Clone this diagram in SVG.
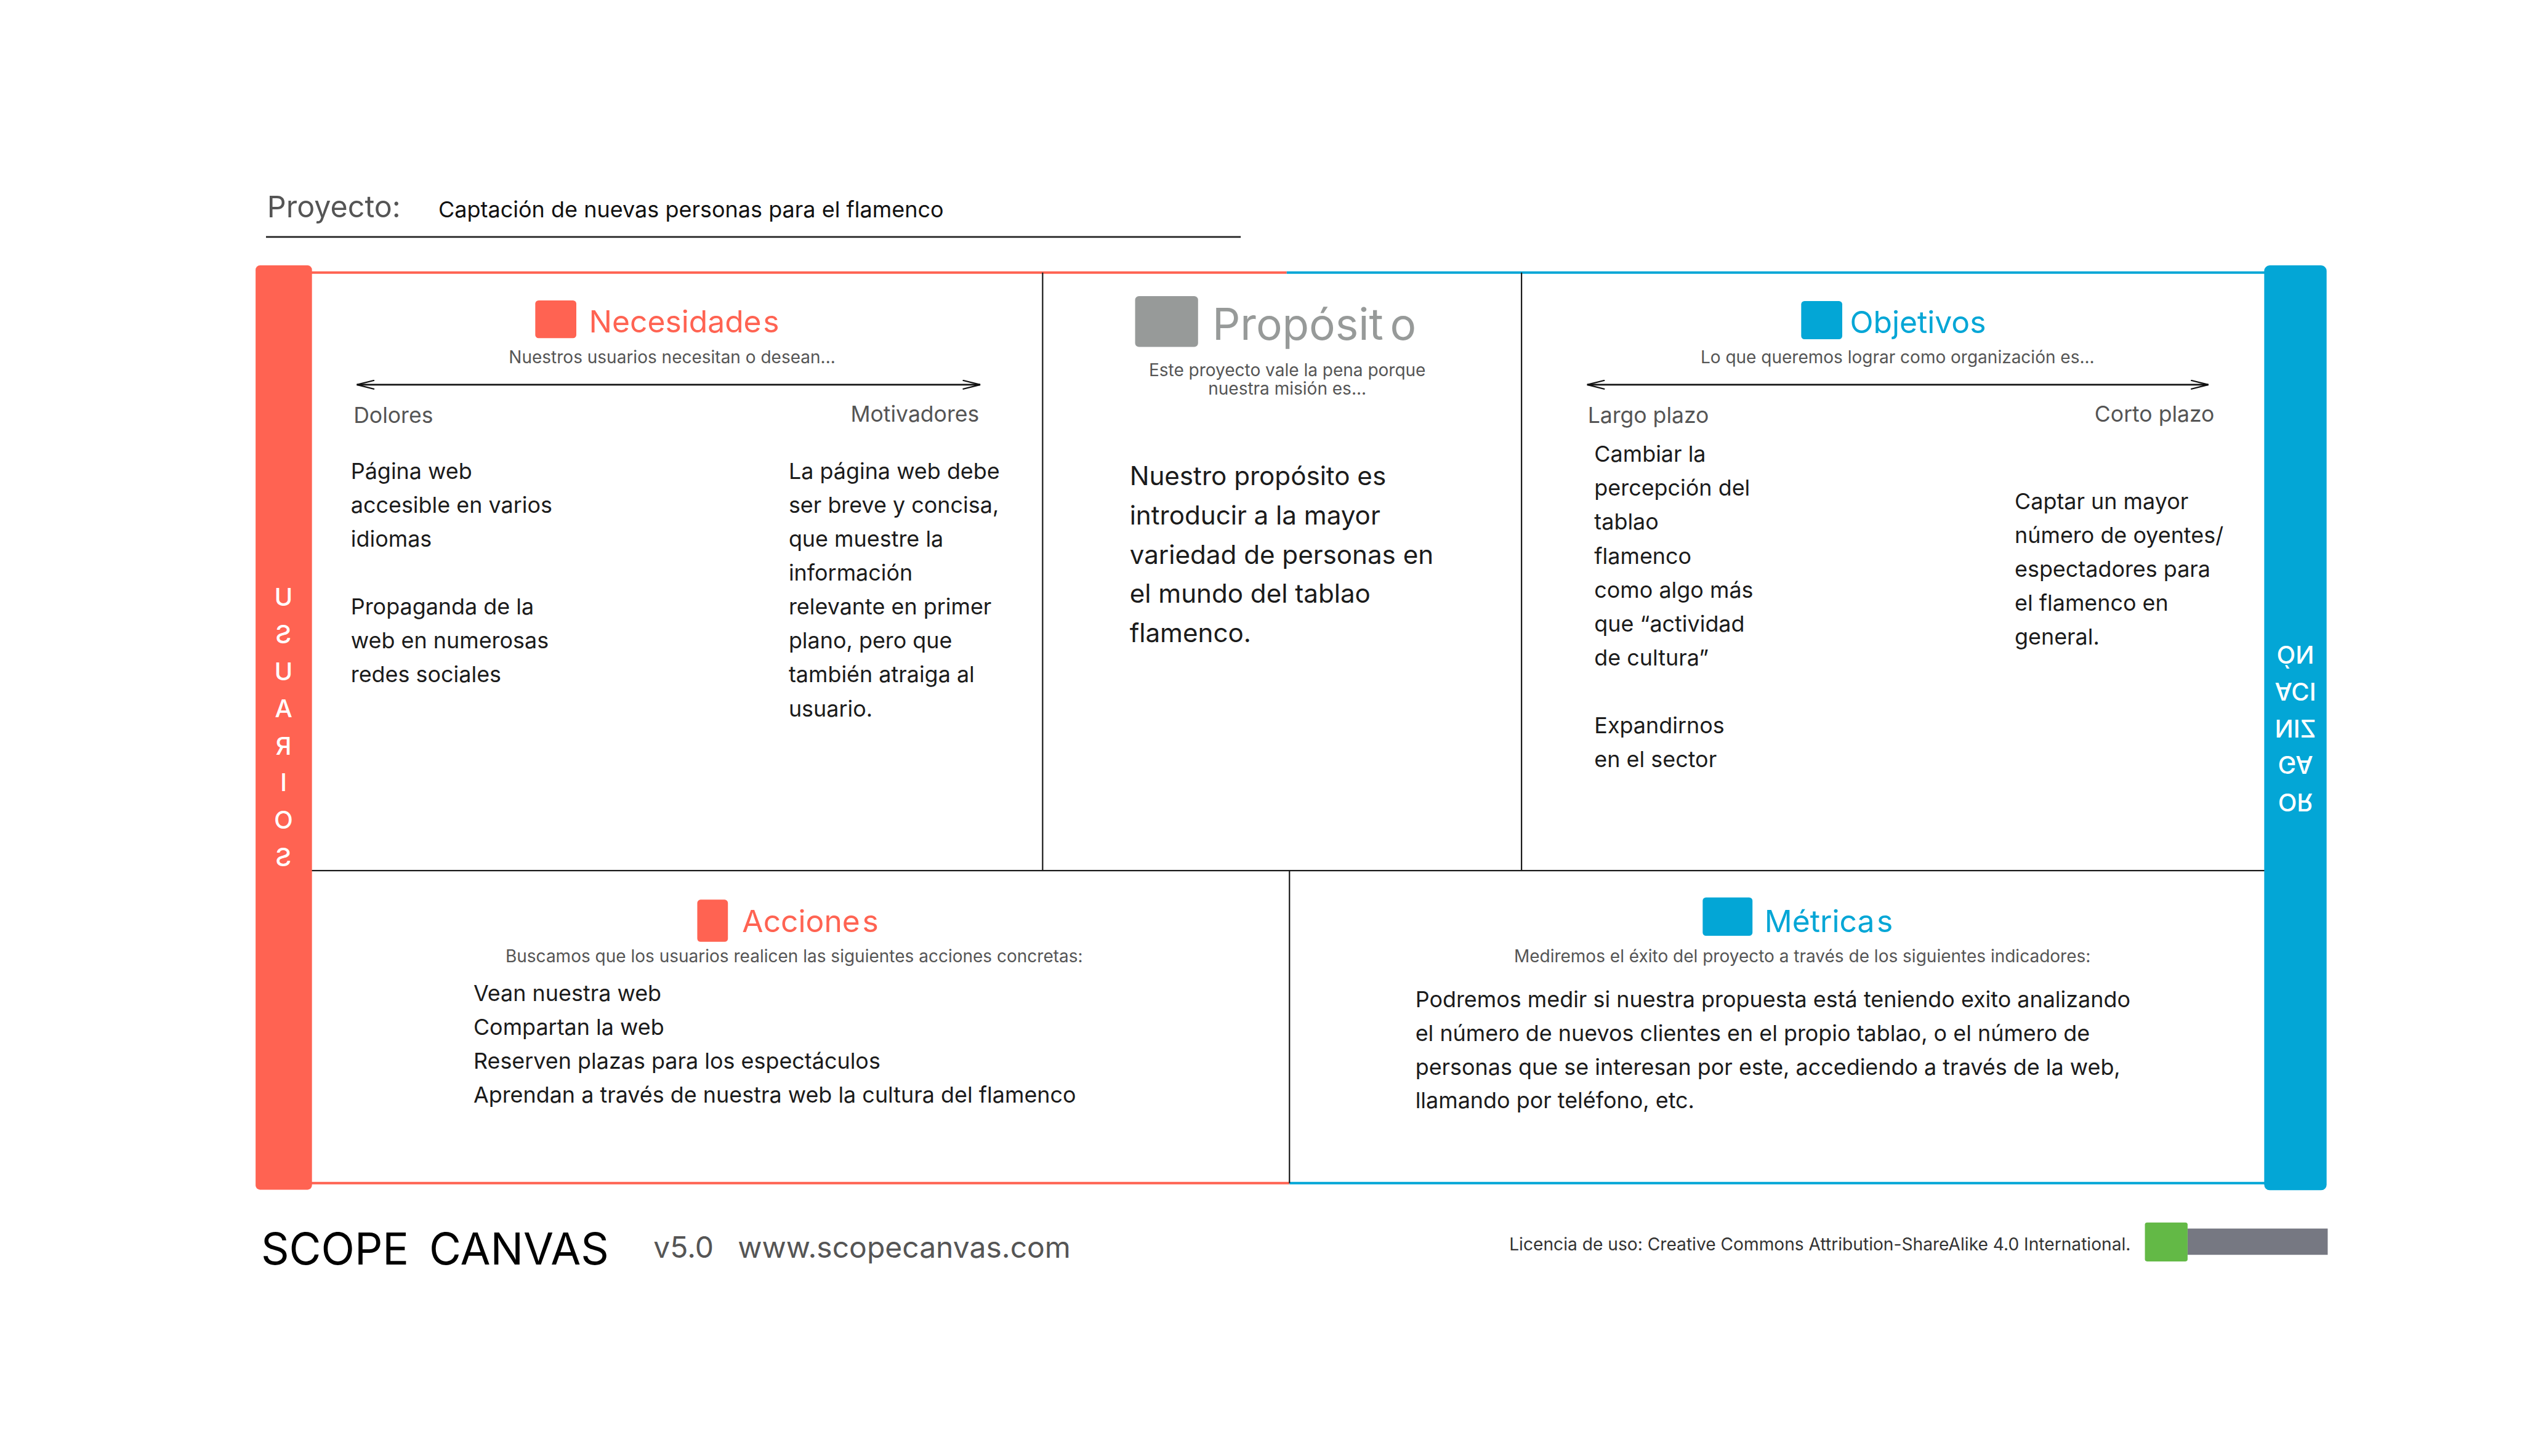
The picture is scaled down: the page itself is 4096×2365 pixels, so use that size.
<svg xmlns="http://www.w3.org/2000/svg" width="4096" height="2365" viewBox="0 0 4096 2365">
<style>
text{font-family:Inter,"Liberation Sans",sans-serif}
.body{font-size:40.4px;fill:#1b1b1b}
.big{font-size:47.4px;fill:#1b1b1b}
.sub{font-size:31.5px;fill:#555;text-anchor:middle}
.lbl{font-size:40px;fill:#555}
.title{font-size:56px}
.red{fill:#FF6352}
.blue{fill:#03A6D6}
.gline{stroke:#1b1b1b;stroke-width:2.5;fill:none}
.rline{stroke:#FF6352;stroke-width:4.5;fill:none}
.bline{stroke:#03A6D6;stroke-width:4.5;fill:none}
.arrow{stroke:#111;stroke-width:3;fill:none;marker-start:url(#ah);marker-end:url(#ah)}
.vert{font-size:45px;font-weight:500;fill:#fff;text-anchor:middle}
</style>
<defs>
<marker id="ah" viewBox="0 0 34 18" refX="33" refY="9" markerWidth="34" markerHeight="18" markerUnits="userSpaceOnUse" orient="auto-start-reverse">
<path d="M1,1 L33,9 L1,17" fill="none" stroke="#111" stroke-width="2.5"/>
</marker>
</defs>
<rect width="4096" height="2365" fill="#fff"/>
<g transform="scale(0.888889)">
<g id="header">
<text x="488" y="397" style="font-size:54.5px;fill:#555">Proyecto:</text>
<text x="801" y="397" style="font-size:40.5px;fill:#111">Captación de nuevas personas para el flamenco</text>
<line x1="486" y1="433" x2="2267" y2="433" stroke="#222" stroke-width="3"/>
</g>
<g id="frame">
<line class="rline" x1="568" y1="498" x2="2351" y2="498"/>
<line class="bline" x1="2351" y1="498" x2="4139" y2="498"/>
<line class="rline" x1="568" y1="2162" x2="2356" y2="2162"/>
<line class="bline" x1="2356" y1="2162" x2="4139" y2="2162"/>
<line class="gline" x1="568" y1="1591" x2="4139" y2="1591"/>
<line class="gline" x1="1905" y1="498" x2="1905" y2="1591"/>
<line class="gline" x1="2780" y1="498" x2="2780" y2="1591"/>
<line class="gline" x1="2356" y1="1591" x2="2356" y2="2162"/>
</g>
<g id="usuarios">
<rect x="467" y="485" width="103" height="1689" rx="8" class="red"/>
<g transform="translate(1036,0) scale(-1,1)">
<text class="vert" x="518" y="1107">U</text>
<text class="vert" x="518" y="1175">S</text>
<text class="vert" x="518" y="1243">U</text>
<text class="vert" x="518" y="1311">A</text>
<text class="vert" x="518" y="1379">R</text>
<text class="vert" x="518" y="1446">I</text>
<text class="vert" x="518" y="1514">O</text>
<text class="vert" x="518" y="1582">S</text>
</g>
</g>
<g id="organizacion">
<rect x="4137" y="485" width="114" height="1690" rx="10" class="blue"/>
<g transform="translate(0,2662) scale(1,-1)">
<text class="vert" x="4194" y="1212">OR</text>
<text class="vert" x="4194" y="1281">GA</text>
<text class="vert" x="4194" y="1347">NIZ</text>
<text class="vert" x="4194" y="1414">ACI</text>
<text class="vert" x="4194" y="1482">ÓN</text>
</g>
</g>
<g id="necesidades">
<rect x="978" y="549" width="75" height="69" rx="6" class="red"/>
<text x="1076" y="607" class="title red">Necesidade<tspan dx="3">s</tspan></text>
<text x="1228" y="664" class="sub">Nuestros usuarios necesitan o desean...</text>
<text x="646" y="773" class="lbl">Dolores</text>
<text x="1789" y="771" class="lbl" text-anchor="end">Motivadores</text>
<text class="body"><tspan x="641" y="875">Página web</tspan><tspan x="641" y="937">accesible en varios</tspan><tspan x="641" y="999">idiomas</tspan><tspan x="641" y="1123">Propaganda de la</tspan><tspan x="641" y="1185">web en numerosas</tspan><tspan x="641" y="1247">redes sociales</tspan></text>
<text class="body"><tspan x="1441" y="875">La página web debe</tspan><tspan x="1441" y="937">ser breve y concisa,</tspan><tspan x="1441" y="999">que muestre la</tspan><tspan x="1441" y="1061">información</tspan><tspan x="1441" y="1123">relevante en primer</tspan><tspan x="1441" y="1185">plano, pero que</tspan><tspan x="1441" y="1247">también atraiga al</tspan><tspan x="1441" y="1309">usuario.</tspan></text>
</g>
<g id="proposito">
<rect x="2074" y="541" width="115" height="93" rx="7" fill="#979A99"/>
<text x="2215" y="621" style="font-size:80px;fill:#979A99">Propósit<tspan dx="12">o</tspan></text>
<text x="2352" y="687" class="sub">Este proyecto vale la pena porque</text>
<text x="2352" y="721" class="sub">nuestra misión es...</text>
<text class="big"><tspan x="2064" y="887">Nuestro propósito es</tspan><tspan x="2064" y="959">introducir a la mayor</tspan><tspan x="2064" y="1030">variedad de personas en</tspan><tspan x="2064" y="1101">el mundo del tablao</tspan><tspan x="2064" y="1173">flamenco.</tspan></text>
</g>
<g id="objetivos">
<rect x="3291" y="550" width="75" height="70" rx="6" class="blue"/>
<text x="3380" y="609" class="title blue">Objetivos</text>
<text x="3467" y="664" class="sub">Lo que queremos lograr como organización es...</text>
<text x="2901" y="773" class="lbl">Largo plazo</text>
<text x="4046" y="771" class="lbl" text-anchor="end">Corto plazo</text>
<text class="body"><tspan x="2913" y="844">Cambiar la</tspan><tspan x="2913" y="906">percepción del</tspan><tspan x="2913" y="968">tablao</tspan><tspan x="2913" y="1030">flamenco</tspan><tspan x="2913" y="1092">como algo más</tspan><tspan x="2913" y="1154">que “actividad</tspan><tspan x="2913" y="1216">de cultura”</tspan><tspan x="2913" y="1340">Expandirnos</tspan><tspan x="2913" y="1402">en el sector</tspan></text>
<text class="body"><tspan x="3681" y="930">Captar un mayor</tspan><tspan x="3681" y="992">número de oyentes/</tspan><tspan x="3681" y="1054">espectadores para</tspan><tspan x="3681" y="1116">el flamenco en</tspan><tspan x="3681" y="1178">general.</tspan></text>
</g>
<g id="acciones">
<rect x="1274" y="1644" width="56" height="77" rx="6" class="red"/>
<text x="1356" y="1703" class="title red">Accione<tspan dx="4">s</tspan></text>
<text x="1451" y="1758" class="sub">Buscamos que los usuarios realicen las siguientes acciones concretas:</text>
<text class="body"><tspan x="865" y="1829">Vean nuestra web</tspan><tspan x="865" y="1891">Compartan la web</tspan><tspan x="865" y="1953">Reserven plazas para los espectáculos</tspan><tspan x="865" y="2015">Aprendan a través de nuestra web la cultura del flamenco</tspan></text>
</g>
<g id="metricas">
<rect x="3111" y="1640" width="91" height="70" rx="6" class="blue"/>
<text x="3224" y="1703" class="title blue">Métrica<tspan dx="4">s</tspan></text>
<text x="3293" y="1758" class="sub">Mediremos el éxito del proyecto a través de los siguientes indicadores:</text>
<text class="body"><tspan x="2586" y="1840">Podremos medir si nuestra propuesta está teniendo exito analizando</tspan><tspan x="2586" y="1902">el número de nuevos clientes en el propio tablao, o el número de</tspan><tspan x="2586" y="1964">personas que se interesan por este, accediendo a través de la web,</tspan><tspan x="2586" y="2025">llamando por teléfono, etc.</tspan></text>
</g>
<g id="connectors">
<line class="arrow" x1="652" y1="703" x2="1791" y2="703"/>
<line class="arrow" x1="2900" y1="703" x2="4035" y2="703"/>
</g>
<g id="footer">
<text x="477" y="2311" style="font-size:80px;fill:#000">SCOPE<tspan x="784">CANVAS</tspan></text>
<text x="1194" y="2298" style="font-size:54px;fill:#555">v5.0</text>
<text x="1348" y="2298" style="font-size:54px;fill:#555">www.scopecanvas.com</text>
<text x="3893" y="2285" style="font-size:31.7px;fill:#333" text-anchor="end">Licencia de uso: Creative Commons Attribution-ShareAlike 4.0 International.</text>
<rect x="3997" y="2245" width="256" height="48" fill="#767882"/>
<rect x="3919" y="2234" width="78" height="71" rx="4" fill="#63B946"/>
</g>
</g>
</svg>
